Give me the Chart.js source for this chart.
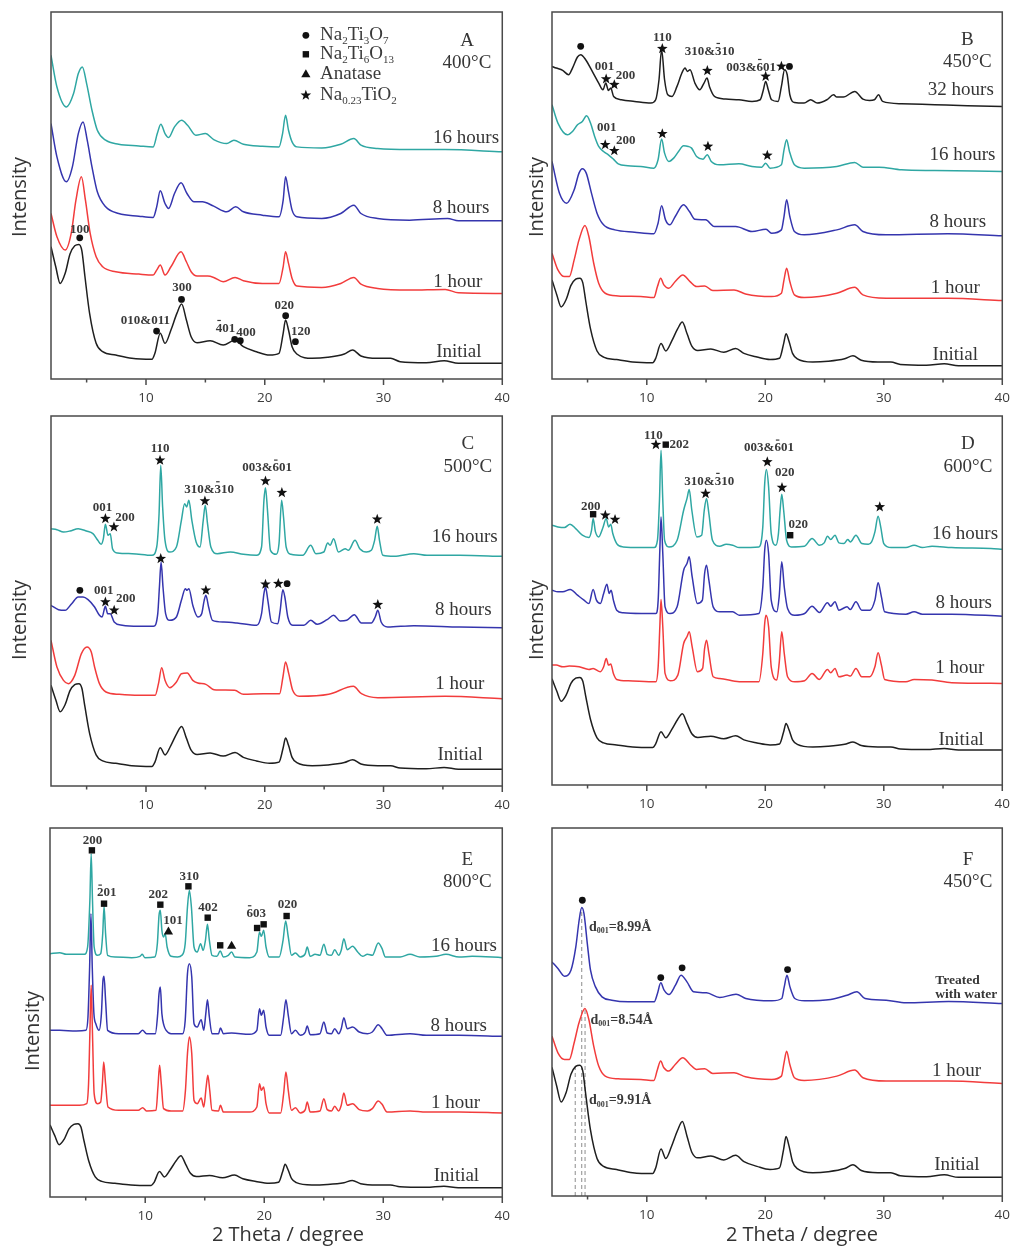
<!DOCTYPE html>
<html>
<head>
<meta charset="utf-8">
<title>XRD patterns</title>
<script src="https://cdn.jsdelivr.net/npm/chart.js@4.4.1/dist/chart.umd.min.js"></script>
<style>
  html, body { margin: 0; padding: 0; background: #fff; }
  #wrap { position: relative; width: 1021px; height: 1247px; overflow: hidden; background: #fff; }
  #wrap canvas { position: absolute; }
</style>
</head>
<body>
<div id="wrap"></div>
<script>
// x axis (2 Theta, degree)
const X_TICKS = [10, 20, 30, 40];
const X_MINOR = [5, 15, 25, 35];

// patterns: [2theta, intensity] (intensity in arbitrary units, stacked as in the figure)
const initial = [[2.0,397],[2.4,337],[2.77,287],[3.2,318],[3.6,375],[4.0,400],[4.35,404],[4.6,385],[4.85,310],[5.25,197],[5.8,107],[6.35,82],[7.45,72],[8.8,62],[10.5,59],[10.75,77],[11.2,137],[11.6,107],[12.1,147],[12.6,197],[13.0,225],[13.4,177],[13.8,127],[14.3,109],[15.4,115],[16.5,102],[17.5,117],[18.2,97],[19.3,82],[20.4,72],[21.2,77],[21.55,137],[21.75,177],[22.0,147],[22.3,97],[22.7,75],[24,62],[25.3,65],[26.7,75],[27.4,87],[28.1,69],[29.5,62],[30.6,62],[31.4,52],[33.6,49],[35.1,55],[36.3,47],[40,47]];

const a400_1h = [[2.0,497],[2.5,427],[3.2,387],[3.7,437],[4.1,537],[4.56,607],[4.9,537],[5.3,437],[5.8,367],[6.35,337],[7.45,322],[9.4,315],[10.6,312],[10.9,327],[11.2,342],[11.6,312],[12.1,337],[12.95,382],[13.4,352],[13.8,322],[14.3,309],[15.2,309],[15.7,305],[16.5,292],[17.5,305],[18.2,295],[19.8,287],[21.2,287],[21.55,337],[21.75,382],[22.0,347],[22.3,302],[22.7,279],[24.8,275],[26.4,287],[27.5,305],[28.1,285],[29.5,272],[32.2,267],[35.2,269],[36.3,259],[40,257]];
const a400_8h = [[2.0,767],[2.5,667],[3.3,592],[3.8,637],[4.3,737],[4.7,772],[5.05,717],[5.45,637],[5.9,562],[6.6,517],[7.7,497],[9.4,489],[10.6,485],[10.9,517],[11.2,565],[11.6,527],[11.9,512],[12.4,557],[12.95,589],[13.45,557],[14.05,532],[14.75,532],[15.7,519],[16.8,502],[17.55,517],[18.2,502],[19.8,492],[21.2,487],[21.55,537],[21.75,607],[22.0,562],[22.3,507],[22.7,487],[24.8,482],[26.4,497],[27.5,522],[28.1,497],[29.5,482],[32.2,477],[35.4,482],[36.3,475],[40,475]];
const a400_16h = [[2.0,972],[2.5,877],[3.3,817],[3.9,857],[4.3,917],[4.64,937],[5.0,887],[5.45,807],[5.9,747],[6.6,717],[7.7,705],[9.4,700],[10.6,697],[10.95,737],[11.25,765],[11.6,737],[11.9,725],[12.4,757],[13.0,777],[13.5,762],[14.2,732],[15.0,737],[15.7,719],[16.8,707],[17.4,717],[18.2,705],[19.8,699],[21.2,697],[21.5,737],[21.75,792],[22.0,747],[22.3,712],[22.7,697],[24.8,694],[26.4,705],[27.5,722],[28.1,702],[29.5,692],[32.2,689],[35.2,689],[40,682]];

const b450_1h = [[2.0,377],[2.5,327],[3.05,307],[3.46,307],[3.87,357],[4.28,417],[4.78,460],[5.11,427],[5.52,347],[5.94,287],[6.49,257],[7.59,249],[9.5,247],[10.6,244],[10.9,277],[11.17,302],[11.44,282],[11.86,272],[12.4,292],[13.04,312],[13.65,292],[14.2,277],[14.89,279],[15.57,265],[17.36,267],[18.33,255],[20.53,247],[21.36,257],[21.58,297],[21.8,332],[22.07,292],[22.46,252],[23.28,244],[26.04,257],[27.55,275],[28.24,252],[30.2,242],[35.4,242],[40,235]];
const b450_8h = [[2.0,652],[2.63,557],[3.24,527],[3.87,567],[4.28,617],[4.56,630],[4.89,617],[5.33,557],[5.8,497],[6.35,462],[7.3,447],[8.97,440],[10.6,435],[10.95,467],[11.25,519],[11.58,477],[11.94,462],[12.4,487],[13.1,522],[13.6,502],[14.06,479],[14.97,477],[15.71,457],[17.5,457],[18.88,442],[20.06,449],[20.53,437],[21.36,447],[21.58,487],[21.8,537],[22.07,487],[22.46,442],[23.28,432],[26.04,447],[27.55,462],[28.24,442],[30.2,432],[35.4,435],[40,429]];
const b450_16h = [[2.0,822],[2.5,767],[3.3,732],[3.73,742],[4.15,762],[4.56,772],[4.92,789],[5.25,767],[5.6,727],[5.94,697],[6.35,682],[6.76,672],[7.18,659],[7.59,645],[8.4,639],[9.5,637],[10.6,632],[10.95,657],[11.25,719],[11.5,677],[11.86,652],[12.27,662],[12.68,682],[13.1,699],[13.5,697],[13.78,692],[14.2,667],[14.75,659],[15.1,672],[15.44,652],[16.12,642],[17.78,645],[18.88,637],[19.7,635],[20.03,647],[20.4,632],[21.36,642],[21.58,687],[21.8,717],[22.04,682],[22.46,642],[23.28,632],[26.04,637],[27.55,649],[28.24,635],[29.6,635],[31.5,627],[34.3,625],[40,622]];
const b450_32h = [[2.0,937],[2.36,932],[2.9,925],[3.4,912],[3.73,932],[4.15,965],[4.42,972],[4.84,957],[5.4,922],[5.94,887],[6.3,867],[6.54,887],[6.76,865],[6.96,872],[7.2,847],[7.86,837],[8.97,832],[10.34,827],[10.75,837],[11.03,897],[11.25,987],[11.5,897],[11.77,852],[12.13,847],[12.55,877],[12.96,917],[13.23,932],[13.43,922],[13.65,927],[14.06,887],[14.47,867],[14.83,887],[15.08,902],[15.3,875],[15.71,847],[16.67,839],[17.78,837],[18.88,832],[19.57,837],[19.84,867],[20.03,892],[20.25,867],[20.53,837],[21.08,832],[21.36,877],[21.63,927],[21.85,912],[22.07,852],[22.46,829],[23.28,827],[23.83,837],[24.38,827],[25.2,837],[25.76,852],[26.04,845],[26.59,845],[27.55,862],[28.24,839],[28.8,835],[29.2,837],[29.56,852],[29.9,832],[31.5,825],[34.3,822],[37.05,819],[40,817]];

const c500_1h = [[2.0,437],[2.5,357],[3.05,317],[3.46,307],[4.0,332],[4.56,397],[5.03,417],[5.39,402],[5.67,357],[6.08,307],[6.63,282],[7.74,275],[9.4,272],[10.77,272],[11.05,307],[11.32,355],[11.6,317],[12.0,295],[12.56,312],[12.98,337],[13.47,339],[13.94,317],[14.36,309],[15.04,305],[15.73,289],[17.47,287],[18.2,275],[19.87,277],[21.25,277],[21.53,327],[21.75,372],[22.02,337],[22.35,287],[22.9,269],[25.39,275],[27.46,299],[28.14,277],[29.52,265],[35.18,269],[40,262]];
const c500_8h = [[2.0,542],[2.63,529],[3.19,527],[3.74,547],[4.29,567],[4.7,567],[5.12,559],[5.67,537],[6.08,512],[6.3,507],[6.58,539],[6.77,517],[6.99,517],[7.32,492],[8.0,482],[9.4,479],[10.63,479],[10.99,517],[11.13,597],[11.27,672],[11.43,597],[11.65,517],[12.0,497],[12.56,507],[12.98,557],[13.31,592],[13.45,587],[13.61,592],[13.94,542],[14.36,507],[14.69,517],[14.9,557],[15.04,572],[15.27,537],[15.6,497],[16.56,492],[17.66,489],[19.32,482],[19.73,517],[19.93,577],[20.06,597],[20.26,557],[20.56,492],[21.1,487],[21.3,527],[21.52,589],[21.69,567],[21.94,507],[22.35,482],[23.3,482],[23.87,497],[24.42,485],[25.25,499],[25.8,512],[26.35,495],[26.9,497],[27.54,514],[28.14,489],[28.97,489],[29.3,507],[29.52,527],[29.8,492],[30.35,477],[32.56,481],[36.42,477],[40,475]];
const c500_16h = [[2.0,772],[2.5,769],[3.05,762],[3.6,765],[4.29,772],[4.98,765],[5.53,757],[5.94,737],[6.22,725],[6.41,742],[6.58,785],[6.8,752],[6.99,757],[7.18,712],[7.6,699],[8.84,697],[10.5,692],[10.9,717],[11.1,817],[11.24,962],[11.4,837],[11.6,737],[12.0,702],[12.56,717],[12.98,797],[13.25,847],[13.42,837],[13.61,857],[13.86,797],[14.22,732],[14.55,717],[14.82,797],[14.99,842],[15.18,787],[15.46,717],[16.0,697],[17.1,702],[18.2,695],[19.3,692],[19.73,717],[19.93,857],[20.06,895],[20.23,827],[20.48,707],[20.97,695],[21.2,727],[21.42,857],[21.58,807],[21.8,717],[22.2,695],[23.2,692],[23.87,722],[24.3,697],[24.97,702],[25.3,729],[25.5,722],[25.8,742],[26.2,702],[26.77,712],[27.04,707],[27.6,737],[28.0,712],[28.56,702],[28.97,707],[29.25,737],[29.47,779],[29.66,737],[29.94,692],[30.9,689],[32.56,697],[33.66,692],[36.42,692],[40,689]];

const d600_1h = [[2.0,360],[2.36,360],[2.91,355],[3.46,357],[4.29,355],[5.12,347],[5.47,350],[6.08,340],[6.36,355],[6.58,380],[6.77,360],[6.96,363],[7.18,335],[7.46,317],[8.43,313],[10.77,310],[10.96,355],[11.1,475],[11.2,557],[11.35,475],[11.54,335],[12.0,313],[12.62,330],[13.11,425],[13.39,445],[13.58,460],[13.83,415],[14.27,340],[14.71,350],[14.88,410],[15.04,435],[15.24,395],[15.6,325],[16.15,320],[17.8,310],[19.46,310],[19.79,395],[19.95,485],[20.06,510],[20.28,475],[20.5,355],[20.97,315],[21.17,365],[21.39,460],[21.6,395],[21.88,325],[22.49,310],[23.32,313],[23.95,335],[24.56,317],[25.25,347],[25.52,337],[25.88,350],[26.21,325],[26.9,330],[27.18,327],[27.65,350],[28.14,325],[28.83,325],[29.25,355],[29.52,397],[29.8,360],[30.07,317],[31.87,310],[32.56,317],[34.07,315],[35.73,307],[40,305]];
const d600_8h = [[2.0,585],[2.5,580],[2.91,580],[3.54,587],[4.15,570],[4.7,555],[5.12,545],[5.47,587],[5.75,555],[6.08,545],[6.36,575],[6.63,603],[6.83,575],[6.99,585],[7.18,555],[7.46,525],[8.0,517],[9.53,515],[10.77,515],[10.96,555],[11.1,705],[11.2,805],[11.35,695],[11.54,535],[11.96,515],[12.56,535],[13.11,645],[13.39,665],[13.58,685],[13.83,625],[14.27,545],[14.69,555],[14.88,635],[15.04,660],[15.24,615],[15.6,535],[16.15,520],[17.25,520],[17.8,510],[19.46,515],[19.79,595],[19.95,705],[20.09,735],[20.28,695],[20.5,555],[20.97,520],[21.17,565],[21.39,670],[21.6,595],[21.88,530],[22.49,510],[23.32,515],[23.95,537],[24.56,518],[25.25,547],[25.52,537],[25.88,550],[26.21,525],[26.9,535],[27.18,527],[27.65,550],[28.14,525],[28.83,525],[29.25,555],[29.52,607],[29.8,565],[30.07,520],[31.87,513],[32.56,520],[33.25,513],[35.73,513],[40,507]];
const d600_16h = [[2.0,780],[2.5,775],[3.05,773],[3.52,783],[4.0,770],[4.56,750],[5.12,743],[5.34,765],[5.47,800],[5.67,760],[5.94,745],[6.27,770],[6.58,800],[6.77,775],[6.96,783],[7.13,755],[7.46,725],[8.0,715],[9.53,713],[10.63,713],[10.9,735],[11.07,855],[11.2,1005],[11.35,855],[11.5,735],[11.87,715],[12.56,735],[13.11,825],[13.39,860],[13.58,887],[13.8,825],[14.22,745],[14.63,750],[14.85,825],[15.04,860],[15.24,815],[15.54,735],[16.15,717],[16.7,723],[17.25,720],[17.8,713],[19.46,715],[19.79,775],[19.95,905],[20.09,947],[20.28,895],[20.5,755],[20.89,720],[21.11,755],[21.25,825],[21.39,873],[21.55,825],[21.8,735],[22.2,715],[23.3,717],[23.95,740],[24.56,720],[24.97,727],[25.25,747],[25.52,737],[25.88,750],[26.21,727],[26.63,725],[26.96,737],[27.18,730],[27.65,750],[28.14,725],[28.7,723],[28.97,730],[29.25,760],[29.52,807],[29.74,775],[30.0,725],[30.63,713],[31.87,713],[32.56,720],[33.25,713],[34.07,717],[35.73,713],[39.04,710],[40,708]];

const e800_1h = [[2.0,275],[3.37,275],[4.47,275],[5.08,280],[5.24,340],[5.35,490],[5.46,635],[5.57,490],[5.71,310],[5.99,280],[6.26,285],[6.4,340],[6.51,405],[6.67,340],[6.87,270],[7.77,260],[9.42,260],[9.78,268],[10.11,258],[10.91,260],[11.07,330],[11.21,395],[11.35,340],[11.54,265],[12.17,258],[13.14,258],[13.38,320],[13.55,430],[13.71,480],[13.91,430],[14.1,290],[14.37,280],[14.7,297],[14.92,270],[15.12,330],[15.26,365],[15.42,320],[15.61,260],[16.16,258],[16.32,275],[16.57,255],[18.77,255],[19.38,270],[19.6,340],[19.76,320],[19.95,330],[20.15,280],[20.42,252],[21.38,252],[21.63,310],[21.82,375],[22.02,320],[22.29,260],[22.62,268],[23.03,252],[23.45,262],[23.61,285],[23.86,255],[24.68,258],[25.01,295],[25.29,262],[25.65,258],[25.92,272],[26.25,258],[26.47,275],[26.69,312],[26.97,275],[27.43,280],[27.98,262],[28.67,258],[29.08,265],[29.58,288],[29.9,278],[30.32,255],[32.25,258],[33.62,255],[36.37,255],[40,252]];
const e800_8h = [[2.0,500],[2.82,500],[4.2,498],[5.02,500],[5.19,540],[5.33,690],[5.44,850],[5.55,690],[5.69,550],[5.85,520],[6.12,500],[6.32,550],[6.45,650],[6.54,662],[6.67,590],[6.84,500],[7.77,490],[9.42,490],[9.78,500],[10.11,490],[10.85,490],[11.05,550],[11.16,610],[11.27,630],[11.4,550],[11.57,515],[11.76,500],[12.17,490],[13.14,490],[13.36,530],[13.55,670],[13.71,700],[13.91,660],[14.1,520],[14.37,510],[14.7,532],[14.92,500],[15.09,550],[15.23,592],[15.39,540],[15.61,490],[16.16,490],[16.32,507],[16.57,490],[17.26,492],[18.77,488],[19.38,500],[19.6,565],[19.76,545],[19.95,560],[20.15,510],[20.42,485],[21.38,485],[21.63,540],[21.82,592],[22.02,545],[22.29,490],[22.62,500],[23.03,485],[23.45,495],[23.61,513],[23.86,487],[24.68,490],[25.01,525],[25.29,492],[25.65,490],[25.92,505],[26.25,490],[26.47,505],[26.69,538],[26.97,505],[27.43,510],[27.98,495],[28.67,490],[29.08,495],[29.58,517],[29.9,505],[30.32,485],[32.25,490],[33.62,485],[36.37,485],[40,482]];
const e800_16h = [[2.0,730],[2.82,733],[3.37,728],[4.2,728],[4.89,728],[5.16,750],[5.35,890],[5.46,1030],[5.57,890],[5.71,750],[5.99,725],[6.26,730],[6.43,790],[6.54,872],[6.67,790],[6.84,725],[7.5,720],[8.87,718],[9.56,722],[9.75,728],[9.97,718],[10.8,720],[11.02,760],[11.16,845],[11.27,860],[11.4,800],[11.54,780],[11.68,790],[11.84,750],[12.17,722],[12.72,720],[13.08,725],[13.36,760],[13.55,870],[13.71,920],[13.88,870],[14.1,750],[14.37,735],[14.65,760],[14.87,740],[15.06,770],[15.23,818],[15.39,770],[15.61,725],[16.02,722],[16.3,738],[16.57,720],[16.98,725],[17.26,735],[17.53,720],[18.77,718],[19.38,735],[19.6,795],[19.76,782],[19.95,800],[20.15,750],[20.42,720],[21.25,720],[21.58,770],[21.8,828],[22.02,780],[22.29,725],[22.62,732],[23.03,720],[23.45,730],[23.61,750],[23.86,722],[24.27,728],[24.68,725],[25.01,758],[25.29,728],[25.65,725],[25.92,742],[26.25,725],[26.47,740],[26.69,775],[26.97,742],[27.43,752],[27.85,735],[28.26,722],[28.67,728],[29.08,725],[29.58,762],[29.9,745],[30.18,720],[31.42,720],[32.25,728],[33.07,720],[34.44,722],[35.27,728],[36.37,720],[37.47,722],[40,718]];

const f450_water = [[2.0,703],[2.5,683],[3.05,660],[3.6,678],[4.01,748],[4.29,828],[4.51,866],[4.7,848],[4.98,758],[5.25,678],[5.67,628],[6.22,598],[7.05,588],[8.43,583],[10.63,583],[10.9,608],[11.18,640],[11.46,618],[11.87,605],[12.42,633],[12.89,663],[13.39,643],[13.94,613],[15.04,610],[16.15,596],[17.53,606],[18.35,593],[20.56,586],[21.39,593],[21.6,628],[21.83,663],[22.08,628],[22.49,593],[23.32,586],[25.52,590],[26.9,603],[27.73,613],[28.42,593],[30.21,588],[31.87,580],[35.45,584],[40,578]];

// how each reused pattern is placed in a panel: [shift, scale]
const initialPlacement = { A: [0, 1], B: [5.5, 0.734], C: [16.2, 0.72], D: [76.3, 0.611], E: [2.7, 0.538], F: [11.6, 0.944] };
const f450RedPlacement = [103, 1];

const BLACK = '#1f1f1f', RED = '#f23c3c', BLUE = '#3535ae', TEAL = '#2fa7a3';
const SERIF = '"Liberation Serif", "Times New Roman", serif';
const SANS = '"Open Sans", "DejaVu Sans", sans-serif';

const panels = [
  { id: 'A', canvas: [0, 0, 521, 405], area: [51, 12, 511, 379], ymax: 1102, intensity: [20, 197],
    curves: [[initial, BLACK, initialPlacement.A], [a400_1h, RED], [a400_8h, BLUE], [a400_16h, TEAL]],
    title: ['A', '400°C', 37.03, 1015, 949],
    names: [['16 hours', 36.95, 725], ['8 hours', 36.53, 512], ['1 hour', 36.26, 292], ['Initial', 36.34, 82]],
    marks: [['c', 4.42, 424], ['c', 10.89, 144], ['c', 12.99, 239], ['c', 17.47, 119], ['c', 17.94, 115], ['c', 21.76, 190], ['c', 22.58, 112]],
    peaks: [['100', 4.42, 449], ['010&011', 9.95, 175], ['300', 13.03, 275], ['401', 16.7, 152, 0], ['400', 18.43, 139], ['020', 21.65, 219], ['120', 23.02, 141]],
    legend: true },
  { id: 'B', canvas: [515, 0, 506, 405], area: [552, 12, 1012, 379], ymax: 1100, intensity: [537, 197],
    curves: [[initial, BLACK, initialPlacement.B], [b450_1h, RED], [b450_8h, BLUE], [b450_16h, TEAL], [b450_32h, BLACK]],
    title: ['B', '450°C', 37.05, 1017, 949],
    names: [['32 hours', 36.5, 867], ['16 hours', 36.64, 672], ['8 hours', 36.25, 472], ['1 hour', 36.03, 272], ['Initial', 36.03, 72]],
    marks: [['c', 4.42, 997], ['*', 6.57, 899], ['*', 7.26, 882], ['*', 11.31, 990], ['*', 15.11, 924], ['*', 20.03, 907], ['*', 21.36, 937], ['c', 22.04, 937],
            ['*', 6.49, 702], ['*', 7.26, 684], ['*', 11.31, 735], ['*', 15.16, 697], ['*', 20.17, 670]],
    peaks: [['001', 6.43, 937], ['200', 8.2, 909], ['110', 11.31, 1022], ['310&310', 15.3, 982, 4], ['003&601', 18.8, 934, 4], ['001', 6.63, 752], ['200', 8.22, 715]] },
  { id: 'C', canvas: [0, 405, 521, 410], area: [51, 416, 510, 786], ymax: 1110, intensity: [20, 620],
    curves: [[initial, BLACK, initialPlacement.C], [c500_1h, RED], [c500_8h, BLUE], [c500_16h, TEAL]],
    title: ['C', '500°C', 37.1, 1027, 957],
    names: [['16 hours', 36.83, 747], ['8 hours', 36.72, 527], ['1 hour', 36.42, 305], ['Initial', 36.45, 92]],
    marks: [['*', 11.18, 977], ['*', 20.06, 915], ['*', 21.44, 880], ['*', 14.96, 855], ['*', 6.58, 802], ['*', 7.3, 777], ['*', 29.47, 800],
            ['*', 11.24, 682], ['c', 4.43, 587], ['*', 6.58, 552], ['*', 7.32, 527], ['*', 15.04, 587], ['*', 20.06, 605], ['*', 21.14, 607], ['c', 21.88, 607], ['*', 29.52, 544]],
    peaks: [['110', 11.18, 1012], ['003&601', 20.2, 954, 4], ['310&310', 15.32, 889, 4], ['001', 6.33, 835], ['200', 8.23, 805], ['001', 6.45, 585], ['200', 8.3, 562]] },
  { id: 'D', canvas: [515, 405, 506, 410], area: [552, 416, 1012, 785], ymax: 1108, intensity: [537, 620],
    curves: [[initial, BLACK, initialPlacement.D], [d600_1h, RED], [d600_8h, BLUE], [d600_16h, TEAL]],
    title: ['D', '600°C', 37.1, 1025, 955],
    names: [['16 hours', 36.86, 755], ['8 hours', 36.75, 545], ['1 hour', 36.42, 350], ['Initial', 36.53, 135]],
    marks: [['*', 10.77, 1022], ['s', 11.6, 1022], ['*', 20.17, 970], ['*', 21.41, 893], ['*', 14.96, 875], ['s', 5.47, 813], ['*', 6.5, 810], ['*', 7.32, 797], ['s', 22.1, 750], ['*', 29.66, 835]],
    peaks: [['110', 10.55, 1050], ['202', 12.73, 1023], ['003&601', 20.31, 1012, 4], ['020', 21.64, 937], ['310&310', 15.27, 912, 4], ['200', 5.28, 837], ['020', 22.79, 783]] },
  { id: 'E', canvas: [0, 815, 521, 432], area: [50, 828, 511, 1197], ymax: 1107, intensity: [33, 1031], xtitle: [288, 1235],
    curves: [[initial, BLACK, initialPlacement.E], [e800_1h, RED], [e800_8h, BLUE], [e800_16h, TEAL]],
    title: ['E', '800°C', 37.06, 1010, 945],
    names: [['16 hours', 36.78, 753], ['8 hours', 36.34, 513], ['1 hour', 36.07, 283], ['Initial', 36.15, 63]],
    marks: [['s', 5.52, 1040], ['s', 6.54, 880], ['s', 11.27, 877], ['t', 11.95, 798], ['s', 13.63, 932], ['s', 15.25, 838], ['s', 16.3, 755], ['t', 17.26, 755], ['s', 19.4, 807], ['s', 19.95, 818], ['s', 21.88, 843]],
    peaks: [['200', 5.57, 1068], ['201', 6.76, 912, 0], ['202', 11.1, 907], ['101', 12.34, 828], ['310', 13.71, 960], ['402', 15.28, 867], ['603', 19.32, 850, 0], ['020', 21.96, 877]] },
  { id: 'F', canvas: [515, 815, 506, 432], area: [552, 828, 1012, 1196], ymax: 1105, xtitle: [802, 1235],
    curves: [[initial, BLACK, initialPlacement.F], [b450_1h, RED, f450RedPlacement], [f450_water, BLUE]],
    title: ['F', '450°C', 37.1, 1008, 943],
    names: [['1 hour', 36.14, 376], ['Initial', 36.17, 93]],
    small: [['Treated', 34.35, 648], ['with water', 34.35, 606]],
    marks: [['c', 4.56, 888], ['c', 11.18, 656], ['c', 12.98, 685], ['c', 21.88, 680]],
    dvals: [['8.99', 5.12, 808], ['8.54', 5.25, 528], ['9.91', 5.12, 286]],
    dashes: [[3.96, 390], [4.51, 864], [4.79, 568]] }
];
const byId = {};
panels.forEach(p => { byId['p' + p.id] = p; });

const legendRows = [
  ['c', [['Na', 0], ['2', 1], ['Ti', 0], ['3', 1], ['O', 0], ['7', 1]]],
  ['s', [['Na', 0], ['2', 1], ['Ti', 0], ['6', 1], ['O', 0], ['13', 1]]],
  ['t', [['Anatase', 0]]],
  ['*', [['Na', 0], ['0.23', 1], ['Ti', 0], ['O', 0], ['2', 1]]]
];
const legendH = [1032, 975, 916, 852];

function drawMark(ctx, type, x, y) {
  ctx.beginPath();
  if (type === 'c') {
    ctx.arc(x, y, 3.4, 0, Math.PI * 2);
  } else if (type === 's') {
    ctx.rect(x - 3.2, y - 3.2, 6.4, 6.4);
  } else if (type === 't') {
    ctx.moveTo(x, y - 4.6); ctx.lineTo(x + 4.6, y + 3.4); ctx.lineTo(x - 4.6, y + 3.4); ctx.closePath();
  } else {
    for (let i = 0; i < 10; i++) {
      const a = -Math.PI / 2 + i * Math.PI / 5, r = i % 2 ? 2.3 : 5.6;
      ctx.lineTo(x + r * Math.cos(a), y + r * Math.sin(a));
    }
    ctx.closePath();
  }
  ctx.fill();
}

function rich(ctx, parts, x, y, size, align, weight) {
  const w0 = weight ? weight + ' ' : '';
  const main = w0 + size + 'px ' + SERIF, sub = w0 + Math.round(size * 0.58) + 'px ' + SERIF;
  let w = 0;
  parts.forEach(([t, s]) => { ctx.font = s ? sub : main; w += ctx.measureText(t).width; });
  let cx = align === 'center' ? x - w / 2 : x;
  ctx.textAlign = 'left';
  ctx.textBaseline = 'middle';
  parts.forEach(([t, s]) => {
    ctx.font = s ? sub : main;
    ctx.fillText(t, cx, s ? y + size * 0.3 : y);
    cx += ctx.measureText(t).width;
  });
}

function barText(ctx, t, x, y, barIdx) {
  ctx.font = 'bold 13px ' + SERIF;
  ctx.textAlign = 'center';
  ctx.textBaseline = 'middle';
  ctx.fillText(t, x, y);
  if (barIdx !== undefined) {
    const total = ctx.measureText(t).width;
    const pre = ctx.measureText(t.slice(0, barIdx)).width;
    const cw = ctx.measureText(t[barIdx]).width;
    const x0 = x - total / 2 + pre;
    ctx.fillRect(x0 + 1.5, y - 8.5, cw - 3, 1.2);
  }
}

const xrdPlugin = {
  id: 'xrd',
  beforeDatasetsDraw(chart) {
    const P = byId[chart.canvas.id];
    if (!P.dashes) return;
    const ctx = chart.ctx, xs = chart.scales.x, ys = chart.scales.y;
    ctx.save();
    ctx.strokeStyle = '#8c8c8c';
    ctx.lineWidth = 1;
    ctx.setLineDash([4, 3]);
    P.dashes.forEach(([x, h]) => {
      const px = xs.getPixelForValue(x);
      ctx.beginPath();
      ctx.moveTo(px, ys.getPixelForValue(0));
      ctx.lineTo(px, ys.getPixelForValue(h));
      ctx.stroke();
    });
    ctx.restore();
  },
  afterDraw(chart) {
    const P = byId[chart.canvas.id];
    const ctx = chart.ctx, xs = chart.scales.x, ys = chart.scales.y, a = chart.chartArea;
    const X = v => xs.getPixelForValue(v), Y = v => ys.getPixelForValue(v);
    const ox = P.canvas[0], oy = P.canvas[1];
    ctx.save();
    // frame and ticks
    ctx.strokeStyle = '#4a4a4a';
    ctx.lineWidth = 1.5;
    ctx.strokeRect(a.left, a.top, a.right - a.left, a.bottom - a.top);
    ctx.beginPath();
    X_TICKS.forEach(v => { ctx.moveTo(X(v), a.bottom); ctx.lineTo(X(v), a.bottom + 6); });
    X_MINOR.forEach(v => { ctx.moveTo(X(v), a.bottom); ctx.lineTo(X(v), a.bottom + 3.5); });
    ctx.stroke();

    // axis titles
    ctx.fillStyle = '#333';
    ctx.font = '20px ' + SANS;
    ctx.textAlign = 'center';
    ctx.textBaseline = 'middle';
    if (P.intensity) {
      ctx.save();
      ctx.translate(P.intensity[0] - ox, P.intensity[1] - oy);
      ctx.rotate(-Math.PI / 2);
      ctx.fillText('Intensity', 0, 0);
      ctx.restore();
    }
    if (P.xtitle) ctx.fillText('2 Theta / degree', P.xtitle[0] - ox, P.xtitle[1] - oy);

    // panel letter and temperature
    ctx.fillStyle = '#363636';
    ctx.font = '19px ' + SERIF;
    ctx.fillText(P.title[0], X(P.title[2]), Y(P.title[3]));
    ctx.fillText(P.title[1], X(P.title[2]), Y(P.title[4]));

    // sample names
    P.names.forEach(([t, x, h]) => ctx.fillText(t, X(x), Y(h)));
    if (P.small) {
      ctx.font = 'bold 13.5px ' + SERIF;
      ctx.textAlign = 'left';
      P.small.forEach(([t, x, h]) => ctx.fillText(t, X(x), Y(h)));
    }

    // peak indices
    ctx.fillStyle = '#3a3a3a';
    (P.peaks || []).forEach(([t, x, h, b]) => barText(ctx, t, X(x), Y(h), b));
    (P.dvals || []).forEach(([t, x, h]) => rich(ctx, [['d', 0], ['001', 1], ['=' + t + 'Å', 0]], X(x), Y(h), 14, 'left', 'bold'));

    // phase markers
    ctx.fillStyle = '#111';
    P.marks.forEach(([m, x, h]) => drawMark(ctx, m, X(x), Y(h)));

    // phase legend
    if (P.legend) {
      legendRows.forEach(([m, parts], i) => {
        ctx.fillStyle = '#111';
        drawMark(ctx, m, X(23.46), Y(legendH[i]));
        ctx.fillStyle = '#3a3a3a';
        rich(ctx, parts, X(24.65), Y(legendH[i]), 19, 'left');
      });
    }
    ctx.restore();
  }
};

Chart.defaults.font.family = SANS;
const wrap = document.getElementById('wrap');

panels.forEach(P => {
  const [cl, ct, cw, chh] = P.canvas;
  const [al, at, ar, ab] = P.area;
  const cv = document.createElement('canvas');
  cv.id = 'p' + P.id;
  cv.width = cw; cv.height = chh;
  cv.style.left = cl + 'px'; cv.style.top = ct + 'px';
  cv.style.width = cw + 'px'; cv.style.height = chh + 'px';
  wrap.appendChild(cv);

  const scales = {
    x: {
      type: 'linear', min: 2, max: 40,
      afterBuildTicks: s => { s.ticks = X_TICKS.map(v => ({ value: v })); },
      afterFit: s => { s.height = ct + chh - ab; },
      grid: { display: false, drawTicks: false },
      border: { display: false },
      ticks: { color: '#3c3c3c', font: { size: 13.5 }, padding: 11, maxRotation: 0, autoSkip: false }
    },
    y: {
      type: 'linear', min: 0, max: P.ymax,
      afterFit: s => { s.width = al - cl; },
      grid: { display: false, drawTicks: false },
      border: { display: false },
      ticks: { display: false }
    }
  };

  const datasets = P.curves.map(([arr, color, place], i) => {
    const [shift, k] = place || [0, 1];
    const id = 'c' + i;
    scales[id] = { type: 'linear', axis: 'y', display: false, min: -shift / k, max: (P.ymax - shift) / k };
    return {
      data: arr.map(p => ({ x: p[0], y: p[1] })),
      borderColor: color,
      borderWidth: 1.5,
      pointRadius: 0,
      fill: false,
      cubicInterpolationMode: 'monotone',
      yAxisID: id
    };
  });

  new Chart(cv, {
    type: 'line',
    data: { datasets },
    options: {
      responsive: false,
      animation: false,
      layout: { padding: { left: 0, top: at - ct, right: cl + cw - ar, bottom: 0 } },
      plugins: { legend: { display: false }, tooltip: { enabled: false } },
      scales
    },
    plugins: [xrdPlugin]
  });
});
</script>
</body>
</html>
